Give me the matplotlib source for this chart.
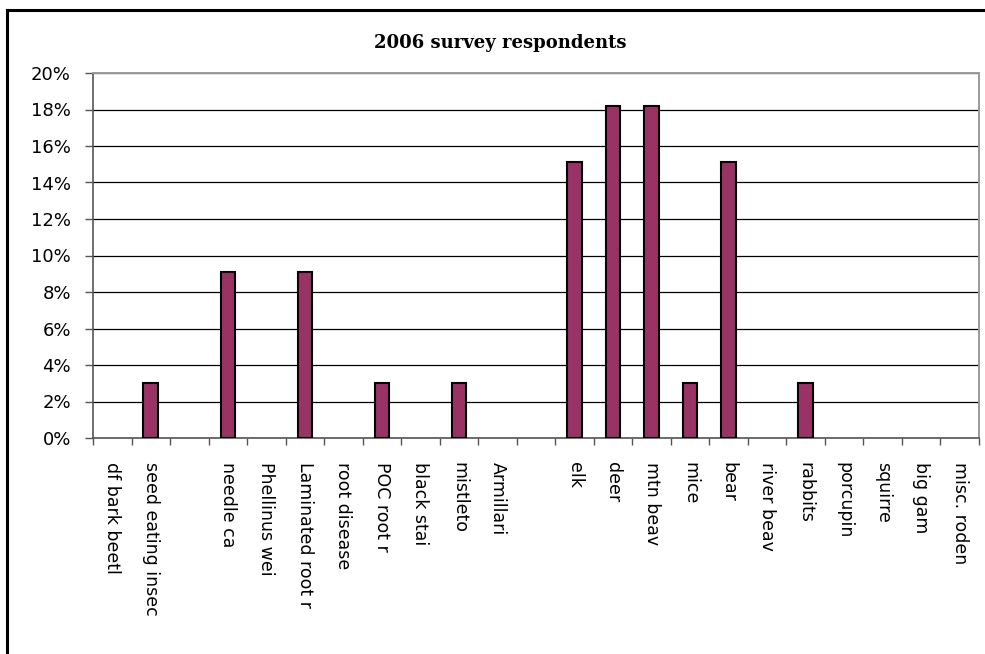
import matplotlib
matplotlib.use("Agg")
import matplotlib.pyplot as plt
from matplotlib.lines import Line2D
from matplotlib.ticker import FixedLocator, PercentFormatter
import numpy as np

categories = [
    "df bark beetl", "seed eating insec", "", "needle ca", "Phellinus wei",
    "Laminated root r", "root disease", "POC root r", "black stai", "mistleto",
    "Armillari", "", "elk", "deer", "mtn beav", "mice", "bear", "river beav",
    "rabbits", "porcupin", "squirre", "big gam", "misc. roden",
]
shares = [
    0.0, 0.0303, 0.0, 0.0909, 0.0, 0.0909, 0.0, 0.0303, 0.0, 0.0303,
    0.0, 0.0, 0.1515, 0.1818, 0.1818, 0.0303, 0.1515, 0.0, 0.0303, 0.0,
    0.0, 0.0, 0.0,
]
title = "2006 survey respondents"
y_ticks = [0.0, 0.02, 0.04, 0.06, 0.08, 0.10, 0.12, 0.14, 0.16, 0.18, 0.20]

W, H = 985, 654
fig = plt.figure(figsize=(W / 100, H / 100), dpi=100)
fig.patch.set_facecolor("white")

# chart frame (left and top edges visible)
fig.add_artist(Line2D([7 / W, 7 / W], [0, 1 - 10 / H], transform=fig.transFigure,
                      color="black", lw=2.2, solid_capstyle="projecting"))
fig.add_artist(Line2D([7 / W, 1.0], [1 - 10 / H, 1 - 10 / H], transform=fig.transFigure,
                      color="black", lw=2.2, solid_capstyle="projecting"))

left, right, top, bottom = 93, 979, 73, 438
ax = fig.add_axes([left / W, 1 - bottom / H, (right - left) / W, (bottom - top) / H])

x = np.arange(len(categories))
vals = np.array(shares)
nz = vals > 0
ax.bar(x[nz], vals[nz], width=0.38, color="#993366", edgecolor="black",
       linewidth=1.5, zorder=3)

ax.set_xlim(-0.5, len(categories) - 0.5)
ax.set_ylim(0, 0.20)
ax.set_yticks(y_ticks)
ax.yaxis.set_major_formatter(PercentFormatter(1.0, decimals=0))
ax.grid(axis="y", color="black", linewidth=0.9, zorder=1)
ax.set_axisbelow(True)

ax.set_xticks(x)
ax.set_xticklabels(categories, rotation=270, fontsize=12.5, family="DejaVu Sans")
ax.xaxis.set_minor_locator(FixedLocator(np.arange(-0.5, len(categories), 1.0)))
ax.tick_params(axis="x", which="major", length=0, pad=17)
ax.tick_params(axis="x", which="minor", length=5, width=1.0, color="#555555", direction="out")
ax.tick_params(axis="y", length=6, width=1.0, color="#555555", pad=10,
               labelsize=13, labelfontfamily="DejaVu Sans")

for side in ("top", "right"):
    ax.spines[side].set_color("#9a9a9a")
    ax.spines[side].set_linewidth(1.4)
for side in ("left", "bottom"):
    ax.spines[side].set_color("#555555")
    ax.spines[side].set_linewidth(1.2)

fig.text(500 / W, 1 - 43 / H, title, ha="center", va="center",
         fontsize=13, fontweight="bold", family="DejaVu Serif")

fig.savefig("out.png", dpi=100, facecolor="white")
